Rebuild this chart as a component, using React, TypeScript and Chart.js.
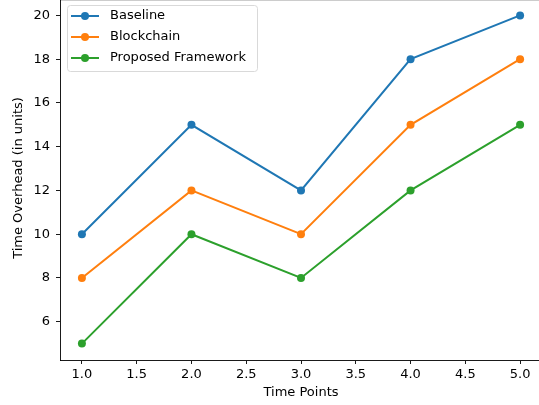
import React, { useEffect, useRef } from "react";
import { Chart, registerables } from "chart.js";

Chart.register(...registerables);

const timePoints = [1, 2, 3, 4, 5];
const baseline = [10, 15, 12, 18, 20];
const blockchain = [8, 12, 10, 15, 18];
const proposed = [5, 10, 8, 12, 15];
const seriesNames = ["Baseline", "Blockchain", "Proposed Framework"];
const seriesColors = ["#1f77b4", "#ff7f0e", "#2ca02c"];
const xTicks = [1.0, 1.5, 2.0, 2.5, 3.0, 3.5, 4.0, 4.5, 5.0];
const yTicks = [6, 8, 10, 12, 14, 16, 18, 20];
const xTitle = "Time Points";
const yTitle = "Time Overhead (in units)";

const FONT = "DejaVu Sans";
const FS = 13;
const OFF = 5; // canvas y = page y + OFF

export default function App() {
  const ref = useRef<HTMLCanvasElement | null>(null);
  useEffect(() => {
    const canvas = ref.current;
    if (!canvas) return;
    const allSeries = [baseline, blockchain, proposed];
    const datasets = allSeries.map((s, i) => ({
      label: seriesNames[i],
      data: timePoints.map((x, j) => ({ x, y: s[j] })),
      borderColor: seriesColors[i],
      backgroundColor: seriesColors[i],
      pointBackgroundColor: seriesColors[i],
      pointBorderColor: seriesColors[i],
      borderWidth: 2,
      pointRadius: 4,
      pointBorderWidth: 0,
      tension: 0,
      clip: false,
    }));

    const overlay = {
      id: "overlay",
      afterDraw(chart: any) {
        const ctx = chart.ctx;
        const area = chart.chartArea;
        ctx.save();
        ctx.translate(0, OFF);
        // faint top spine
        ctx.strokeStyle = "rgba(0,0,0,0.2)";
        ctx.lineWidth = 1;
        ctx.beginPath();
        ctx.moveTo(area.left, 0.5);
        ctx.lineTo(area.right, 0.5);
        ctx.stroke();
        // titles
        ctx.fillStyle = "#000";
        ctx.font = `${FS}px '${FONT}'`;
        ctx.textAlign = "center";
        ctx.textBaseline = "middle";
        ctx.fillText(xTitle, (area.left + area.right) / 2, 393);
        ctx.save();
        ctx.translate(19, 178);
        ctx.rotate(-Math.PI / 2);
        ctx.fillText(yTitle, 0, 0);
        ctx.restore();
        // legend
        const bx = 67.5, by = 5.5, bw = 190, bh = 66, r = 3;
        ctx.beginPath();
        ctx.moveTo(bx + r, by);
        ctx.lineTo(bx + bw - r, by);
        ctx.arcTo(bx + bw, by, bx + bw, by + r, r);
        ctx.lineTo(bx + bw, by + bh - r);
        ctx.arcTo(bx + bw, by + bh, bx + bw - r, by + bh, r);
        ctx.lineTo(bx + r, by + bh);
        ctx.arcTo(bx, by + bh, bx, by + bh - r, r);
        ctx.lineTo(bx, by + r);
        ctx.arcTo(bx, by, bx + r, by, r);
        ctx.closePath();
        ctx.fillStyle = "rgba(255,255,255,0.8)";
        ctx.fill();
        ctx.strokeStyle = "#d9d9d9";
        ctx.lineWidth = 1;
        ctx.stroke();
        const rows = [16, 37, 58];
        seriesNames.forEach((name, i) => {
          const y = rows[i];
          ctx.strokeStyle = seriesColors[i];
          ctx.lineWidth = 2;
          ctx.beginPath();
          ctx.moveTo(71, y);
          ctx.lineTo(99, y);
          ctx.stroke();
          ctx.fillStyle = seriesColors[i];
          ctx.beginPath();
          ctx.arc(85, y, 4, 0, Math.PI * 2);
          ctx.fill();
          ctx.fillStyle = "#000";
          ctx.textAlign = "left";
          ctx.textBaseline = "middle";
          ctx.fillText(name, 110, y);
        });
        ctx.restore();
      },
    };

    const chart = new Chart(canvas, {
      type: "line",
      data: { datasets },
      options: {
        animation: false,
        responsive: false,
        maintainAspectRatio: false,
        layout: { padding: 0 },
        plugins: { legend: { display: false }, tooltip: { enabled: false } },
        scales: {
          x: {
            type: "linear",
            min: 0.8,
            max: 5.2,
            afterBuildTicks: (axis: any) => {
              axis.ticks = xTicks.map((v) => ({ value: v }));
            },
            afterFit: (axis: any) => {
              axis.height = 45;
              axis.paddingLeft = 0;
              axis.paddingRight = 0;
            },
            ticks: {
              callback: (v: any) => Number(v).toFixed(1),
              color: "#000",
              font: { family: FONT, size: FS },
              padding: 3,
              maxRotation: 0,
              autoSkip: false,
            },
            grid: {
              drawOnChartArea: false,
              drawTicks: true,
              tickLength: 4,
              color: "#000",
              tickWidth: 0.9,
            },
            border: { display: true, color: "#000", width: 0.9 },
          },
          y: {
            type: "linear",
            min: 4.25,
            max: 20.75,
            afterBuildTicks: (axis: any) => {
              axis.ticks = yTicks.map((v) => ({ value: v }));
            },
            afterFit: (axis: any) => {
              axis.width = 60;
              axis.paddingTop = 0;
              axis.paddingBottom = 0;
            },
            ticks: {
              color: "#000",
              font: { family: FONT, size: FS },
              padding: 6,
              autoSkip: false,
            },
            grid: {
              drawOnChartArea: false,
              drawTicks: true,
              tickLength: 4,
              color: "#000",
              tickWidth: 0.9,
            },
            border: { display: true, color: "#000", width: 0.9 },
          },
        },
      },
      plugins: [overlay],
    } as any);
    return () => chart.destroy();
  }, []);

  return (
    <div style={{ position: "fixed", left: 0, top: -OFF, width: 546, height: 405 + OFF }}>
      <canvas ref={ref} width={546} height={405 + OFF} style={{ width: 546, height: 405 + OFF, display: "block" }} />
    </div>
  );
}
